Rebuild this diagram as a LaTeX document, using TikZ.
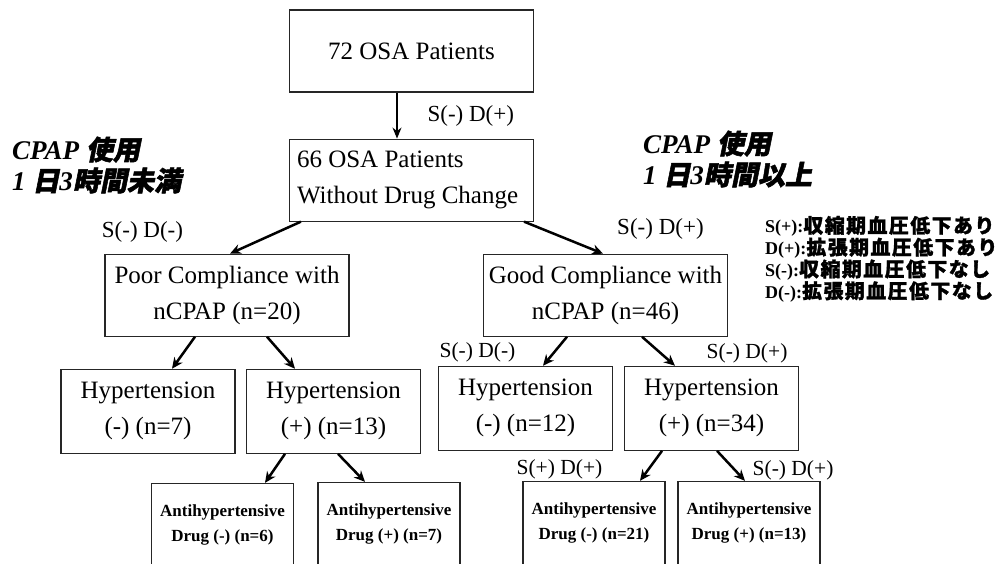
\documentclass[tikz,border=0pt]{standalone}
\usepackage{fontspec}
\setmainfont{Liberation Serif}
\newfontfamily\cjkbi[FakeSlant=0.2,FakeBold=2]{Noto Sans CJK JP}
\newfontfamily\cjkbold[FakeBold=1.5,LetterSpace=8,Scale=1.1]{Noto Sans CJK JP}
\usetikzlibrary{positioning, arrows.meta}

\begin{document}
\begin{tikzpicture}[
        x=1pt, y=1pt,
        mainbox/.style={draw=black!85, line width=1.1pt, inner sep=0pt, align=center, minimum width=244pt, minimum height=82pt, font=\fontsize{25}{36}\selectfont},
        hypbox/.style={mainbox, minimum width=174pt, minimum height=84pt},
        drugbox/.style={draw=black!85, line width=1.1pt, inner sep=0pt, align=center, minimum width=142pt, minimum height=83pt, font=\bfseries\fontsize{17}{25}\selectfont},
        lbl/.style={inner sep=0pt, font=\fontsize{23}{23}\selectfont},
        lblsmall/.style={inner sep=0pt, font=\fontsize{21.5}{21.5}\selectfont},
        usenote/.style={inner sep=0pt, align=left, font=\bfseries\itshape\fontsize{27}{31}\selectfont},
        legendtext/.style={inner sep=0pt, align=left, font=\bfseries\fontsize{18}{18}\selectfont},
        arrow/.style={draw, line width=2.5pt, -{Stealth[length=11pt,width=10pt]}},
        thinarrow/.style={draw, line width=1.2pt, -{Stealth[length=11pt,width=9pt]}}
    ]
    \useasboundingbox (0,0) rectangle (1001,-564);

    % Kaesten
    \node (start) [mainbox] at (411.5,-51) {72 OSA Patients};
    \node (patients) [mainbox, below=46pt of start, align=flush left, text width=229pt] {66 OSA Patients\\Without Drug Change};

    \node (poor) [mainbox, below=32pt of patients, xshift=-184.5pt] {Poor Compliance with\\nCPAP (n=20)};
    \node (good) [mainbox, below=32pt of patients, xshift=194pt] {Good Compliance with\\nCPAP (n=46)};

    \node (hypneg7) [hypbox, below=32pt of poor, xshift=-79pt] {Hypertension\\(-) (n=7)};
    \node (hyppos13) [hypbox, below=32pt of poor, xshift=106.5pt] {Hypertension\\(+) (n=13)};
    \node (hypneg12) [hypbox, below=29pt of good, xshift=-80pt] {Hypertension\\(-) (n=12)};
    \node (hyppos34) [hypbox, below=29pt of good, xshift=106pt] {Hypertension\\(+) (n=34)};

    \node (drugneg6) [drugbox, below=29pt of hyppos13, xshift=-111pt] {Antihypertensive\\Drug (-) (n=6)};
    \node (drugpos7) [drugbox, below=28pt of hyppos13, xshift=55.5pt] {Antihypertensive\\Drug (+) (n=7)};
    \node (drugneg21) [drugbox, below=30pt of hyppos34, xshift=-117.5pt] {Antihypertensive\\Drug (-) (n=21)};
    \node (drugpos13) [drugbox, below=30pt of hyppos34, xshift=37.5pt] {Antihypertensive\\Drug (+) (n=13)};

    % Texte
    \node (lowuse) [usenote, anchor=west] at (12,-165) {CPAP {\cjkbi 使用}\\1 {\cjkbi 日}3{\cjkbi 時間未満}};
    \node (highuse) [usenote, anchor=west] at (643,-159) {CPAP {\cjkbi 使用}\\1 {\cjkbi 日}3{\cjkbi 時間以上}};
    \node (legend) [legendtext, anchor=west] at (765,-259) {S(+):{\cjkbold 収縮期血圧低下あり}\\D(+):{\cjkbold 拡張期血圧低下あり}\\S(-):{\cjkbold 収縮期血圧低下なし}\\D(-):{\cjkbold 拡張期血圧低下なし}};

    % Pfeile
    \draw[thinarrow] ([xshift=-14.5pt]start.south) -- node[lbl, right=30pt] (lbltop) {S(-) D(+)} ([xshift=-14.5pt]patients.north);
    \draw[arrow] ([xshift=12pt]patients.south west) -- ([xshift=3pt]poor.north);
    \draw[arrow] ([xshift=-10pt]patients.south east) -- ([xshift=-2.5pt]good.north);
    \draw[arrow] ([xshift=-32pt]poor.south) -- ([xshift=24pt]hypneg7.north);
    \draw[arrow] ([xshift=40pt]poor.south) -- ([xshift=-38.5pt]hyppos13.north);
    \draw[arrow] ([xshift=-38.5pt]good.south) -- ([xshift=17.5pt]hypneg12.north);
    \draw[arrow] ([xshift=36.5pt]good.south) -- ([xshift=-36.5pt]hyppos34.north);
    \draw[arrow] ([xshift=-48.5pt]hyppos13.south) -- ([xshift=42.5pt]drugneg6.north);
    \draw[arrow] ([xshift=4.5pt]hyppos13.south) -- ([xshift=-24pt]drugpos7.north);
    \draw[arrow] ([xshift=-49.5pt]hyppos34.south) -- ([xshift=46pt]drugneg21.north);
    \draw[arrow] ([xshift=5.5pt]hyppos34.south) -- ([xshift=-4pt]drugpos13.north);

    % Beschriftungen
    \node (sdpoor) [lbl] at ([xshift=38pt,yshift=22pt]poor.north west) {S(-) D(-)};
    \node (sdgood) [lbl] at ([xshift=177.5pt,yshift=25pt]good.north west) {S(-) D(+)};
    \node (sdneg12) [lblsmall] at ([xshift=39.5pt,yshift=13pt]hypneg12.north west) {S(-) D(-)};
    \node (sdpos34) [lblsmall] at ([xshift=-52pt,yshift=12pt]hyppos34.north east) {S(-) D(+)};
    \node (sdneg21) [lblsmall] at ([xshift=37pt,yshift=12pt]drugneg21.north west) {S(+) D(+)};
    \node (sdpos13) [lblsmall] at ([xshift=-27.5pt,yshift=11pt]drugpos13.north east) {S(-) D(+)};

\end{tikzpicture}
\end{document}
